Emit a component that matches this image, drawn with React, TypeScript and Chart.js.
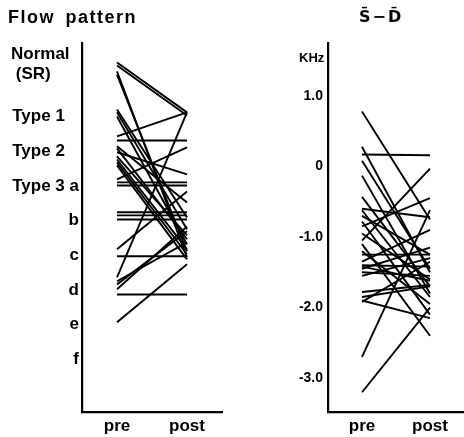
import React, { useEffect, useRef } from "react";
import { Chart, registerables } from "chart.js";

Chart.register(...registerables);

// x categories
const stages = ["pre", "post"];

// Left panel: flow pattern (category scale expressed as levels, f = 1 ... Normal = 9.5)
const patternTickValues = [1, 2, 3, 4, 5, 6, 7, 8, 9.5];
const patternTickLabels: (string | string[])[] = [
  "f",
  "e",
  "d",
  "c",
  "b",
  "Type 3 a",
  "Type 2   ",
  "Type 1   ",
  ["Normal  ", "(SR)      "],
];
const patternPre = [
  9.56, 9.47, 9.3, 9.21, 8.2, 8.12, 8.0, 7.43, 7.31, 7.14, 7.08, 6.97, 6.85, 6.76, 6.68,
  6.59, 6.19, 6.1, 6.01, 5.24, 5.15, 5.03, 4.17, 3.97, 3.36, 3.25, 3.16, 3.02, 2.87, 2.07,
];
const patternPost = [
  8.12, 8.03, 3.94, 4.11, 5.09, 4.75, 4.31, 8.12, 7.31, 5.52, 4.46, 6.33, 4.57, 4.17, 4.03,
  3.88, 7.11, 6.1, 6.01, 5.24, 5.15, 5.03, 5.84, 3.97, 8.12, 4.37, 4.69, 4.83, 2.87, 3.74,
];

// Right panel: S - D (KHz)
const sdTickValues = [-3, -2, -1, 0, 1];
const sdTickLabels = ["-3.0", "-2.0", "-1.0", "0", "1.0"];
const sdPre = [
  0.78, 0.28, 0.17, 0.08, -0.13, -0.43, -0.6, -0.62, -0.7, -0.78, -0.85, -0.95, -1.05, -1.1,
  -1.2, -1.25, -1.35, -1.4, -1.42, -1.45, -1.5, -1.55, -1.78, -1.85, -1.9, -1.92, -2.7, -3.2,
];
const sdPost = [
  -0.75, -1.5, 0.16, -1.45, -1.8, -1.7, -0.72, -1.85, -1.25, -2.1, -0.45, -1.6, -0.03, -2.4,
  -1.95, -1.25, -0.9, -1.42, -1.62, -1.15, -1.55, -1.3, -1.68, -1.7, -2.15, -1.35, -0.62, -2.0,
];

const FONT = "'Liberation Sans', Arial, sans-serif";

type PanelProps = {
  pre: number[];
  post: number[];
  yMin: number;
  yMax: number;
  tickValues: number[];
  tickLabels: (string | string[])[];
  tickFontSize: number;
  tickPadding: number;
  yWidth: number;
  padLeft: number;
  padRight: number;
  width: number;
  left: number;
};

function Panel(p: PanelProps) {
  const ref = useRef<HTMLCanvasElement | null>(null);
  useEffect(() => {
    if (!ref.current) return;
    const datasets = p.pre.map((v, i) => ({
      data: [
        { x: 0, y: v },
        { x: 1, y: p.post[i] },
      ],
      borderColor: "#000",
      borderWidth: 1.9,
      pointRadius: 0,
      fill: false,
      tension: 0,
    }));
    const chart = new Chart(ref.current, {
      type: "line",
      data: { datasets },
      options: {
        animation: false,
        responsive: false,
        events: [],
        color: "#000",
        layout: { padding: { left: p.padLeft, right: p.padRight, top: 43, bottom: 0 } },
        plugins: {
          legend: { display: false },
          tooltip: { enabled: false },
          title: { display: false },
        },
        scales: {
          x: {
            type: "linear",
            min: -0.5,
            max: 1.5,
            grid: { display: false, drawTicks: false },
            border: { display: true, color: "#000", width: 2.2 },
            afterBuildTicks: (s: any) => {
              s.ticks = [{ value: 0 }, { value: 1 }];
            },
            afterFit: (s: any) => {
              s.height = 25;
            },
            ticks: {
              autoSkip: false,
              maxRotation: 0,
              padding: 4,
              color: "#000",
              font: { family: FONT, size: 17, weight: "bold" },
              callback: (_v: any, i: number) => stages[i],
            },
          },
          y: {
            type: "linear",
            min: p.yMin,
            max: p.yMax,
            grid: { display: false, drawTicks: false },
            border: { display: true, color: "#000", width: 2.2 },
            afterBuildTicks: (s: any) => {
              s.ticks = p.tickValues.map((v) => ({ value: v }));
            },
            afterFit: (s: any) => {
              s.width = p.yWidth;
            },
            ticks: {
              autoSkip: false,
              crossAlign: "near",
              padding: p.tickPadding,
              color: "#000",
              font: { family: FONT, size: p.tickFontSize, weight: "bold", lineHeight: 1.15 },
              callback: (_v: any, i: number) => p.tickLabels[i] as any,
            },
          },
        },
      } as any,
    });
    return () => chart.destroy();
  }, []);
  return (
    <canvas
      ref={ref}
      width={p.width}
      height={437}
      style={{ position: "absolute", left: p.left, top: 0, width: p.width, height: 437, display: "block" }}
    />
  );
}

export default function App() {
  return (
    <div
      style={{
        position: "absolute",
        left: 0,
        top: 0,
        width: 464,
        height: 437,
        background: "#fff",
        overflow: "hidden",
      }}
    >
      <Panel
        pre={patternPre}
        post={patternPost}
        yMin={-0.52}
        yMax={10.12}
        tickValues={patternTickValues}
        tickLabels={patternTickLabels}
        tickFontSize={17}
        tickPadding={3}
        yWidth={74}
        padLeft={8}
        padRight={10}
        width={232}
        left={0}
      />
      <Panel
        pre={sdPre}
        post={sdPost}
        yMin={-3.48}
        yMax={1.75}
        tickValues={sdTickValues}
        tickLabels={sdTickLabels}
        tickFontSize={14}
        tickPadding={5}
        yWidth={96}
        padLeft={0}
        padRight={0}
        width={232}
        left={232}
      />
      <div
        style={{
          position: "absolute",
          left: 8,
          top: 8,
          fontFamily: FONT,
          fontWeight: "bold",
          fontSize: 18,
          lineHeight: "18px",
          letterSpacing: "1.5px",
          wordSpacing: "4px",
          whiteSpace: "nowrap",
        }}
      >
        Flow pattern
      </div>
      <div
        style={{
          position: "absolute",
          left: 359,
          top: 6,
          fontFamily: "'DejaVu Sans', sans-serif",
          fontWeight: "bold",
          fontSize: 16,
          lineHeight: "22px",
          letterSpacing: "2px",
          whiteSpace: "nowrap",
        }}
      >
        S̄−D̄
      </div>
      <div
        style={{
          position: "absolute",
          left: 299,
          top: 51,
          fontFamily: FONT,
          fontWeight: "bold",
          fontSize: 13,
          lineHeight: "14px",
          whiteSpace: "nowrap",
        }}
      >
        KHz
      </div>
    </div>
  );
}
